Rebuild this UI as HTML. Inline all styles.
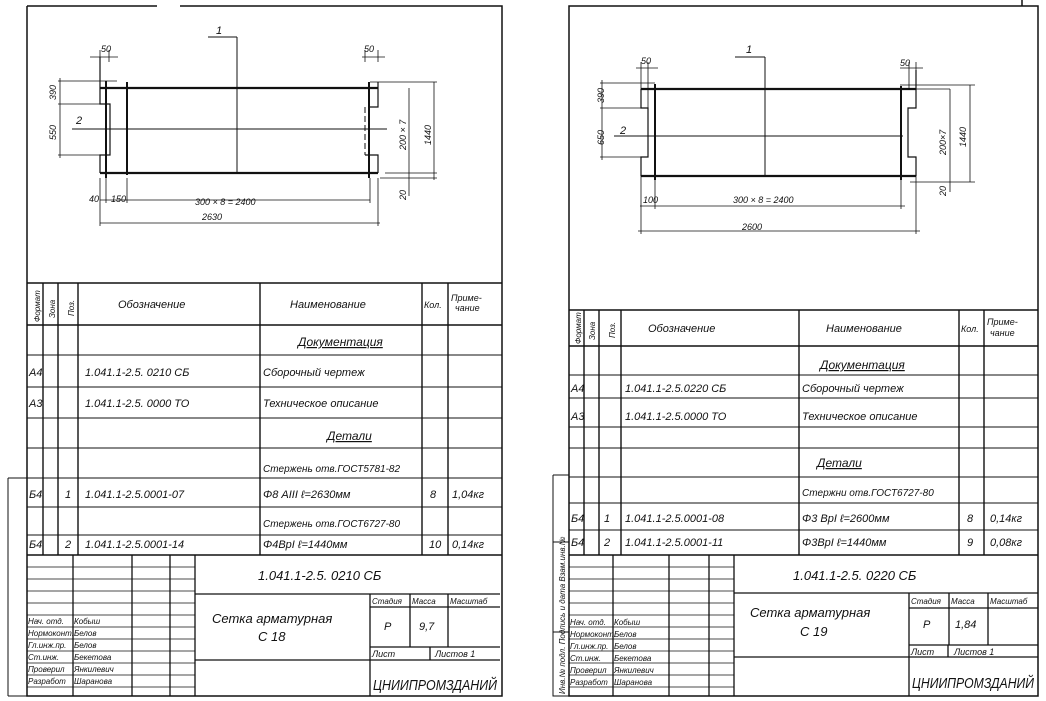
<!DOCTYPE html>
<html><head><meta charset="utf-8"><style>
html,body{margin:0;padding:0;background:#fff}
svg{display:block}
text{font-family:"Liberation Sans",sans-serif;font-style:italic;fill:#111}
</style></head><body>
<svg width="1046" height="701" viewBox="0 0 1046 701" xmlns="http://www.w3.org/2000/svg">
<g stroke="#111" fill="none" stroke-width="1.5">
<!-- LEFT SHEET frame -->
<path d="M27 6H157M180 6H502V696H27V6"/>
<path d="M8 478H27M8 696H27M8 478V696" stroke-width="1"/>
<!-- left drawing -->
<path d="M100 88H378M100 173H378" stroke-width="2.2"/>
<path d="M72 129H387" stroke-width="1"/>
<path d="M106 81V178M127 82V175M369 82V178" stroke-width="2"/>
<path d="M100 57V104H110V155H100V173" stroke-width="1.2"/>
<path d="M110 104V155M365 107V155" stroke-dasharray="6,3" stroke-width="1"/>
<path d="M378 82V107H370M365 155H378V173" stroke-width="1.2"/>
<path d="M237 37V173M208 37H237" stroke-width="1"/>
<g stroke-width="0.8">
<path d="M90 57H118M100 50V60M109 50V62"/>
<path d="M362 57H385M365 50V62M378 50V62"/>
<path d="M58 81H117M58 104H110M58 155H110M60 78V158"/>
<path d="M370 82H437M385 173H437M380 178H437M409 88V173M434 82V180M409 173V196"/>
<path d="M100 200H370M100 223H380M100 178V226M106 178V203M127 178V203M370 178V203M378 178V226"/>
</g>
<!-- left table -->
<path d="M27 283H502M27 325H502M27 555H502M43 283V555M58 283V555M78 283V555M260 283V555M422 283V555M448 283V555" stroke-width="1.4"/>
<path d="M27 355H502M27 387H502M27 418H502M27 448H502M27 478H502M27 507H502M27 535H502" stroke-width="1"/>
<!-- left title block -->
<path d="M195 555V696M195 594H500M73 555V696M132 555V696M170 555V696M370 594V696M410 594V647M448 594V647M370 607H500M370 647H500M370 660H500M430 647V660M195 660H370" stroke-width="1.3"/>
<path d="M27 567H195M27 579H195M27 591H195M27 603H195M27 615H195M27 627H195M27 639H195M27 651H195M27 663H195M27 675H195M27 687H195" stroke-width="0.8"/>

<!-- RIGHT SHEET frame -->
<path d="M569 6H1038V696H569Z"/>
<path d="M1022 0V6"/>
<path d="M553 475H569M553 542H569M553 632H569M553 475V696H569" stroke-width="1"/>
<!-- right drawing -->
<path d="M641 89H916M641 176H916" stroke-width="2.2"/>
<path d="M614 136H903" stroke-width="1"/>
<path d="M655 84V180M901 86V180" stroke-width="2"/>
<path d="M641 89V108H648V157H641V176" stroke-width="1.2"/>
<path d="M648 108V157M908 108V157" stroke-dasharray="6,3" stroke-width="1"/>
<path d="M916 70V108H908V157H916V176" stroke-width="1.2"/>
<path d="M765 57V176M735 57H765" stroke-width="1"/>
<g stroke-width="0.8">
<path d="M636 68H658M641 62V90M648 62V108"/>
<path d="M900 68H923M909 62V90M916 62V90"/>
<path d="M600 83H655M600 108H648M600 157H648M602 80V160"/>
<path d="M900 85H975M916 89H950M910 182H975M950 89V182M970 85V182M950 176V192"/>
<path d="M640 206H905M638 231H920M641 176V234M655 176V209M901 176V209M916 176V234"/>
</g>
<!-- right table -->
<path d="M569 310H1038M569 346H1038M569 555H1038M584 310V555M599 310V555M621 310V555M799 310V555M959 310V555M984 310V555" stroke-width="1.4"/>
<path d="M569 375H1038M569 398H1038M569 427H1038M569 448H1038M569 477H1038M569 503H1038M569 530H1038" stroke-width="1"/>
<!-- right title block -->
<path d="M734 555V696M734 593H1038M613 555V696M669 555V696M709 555V696M909 593V696M949 593V645M988 593V645M909 608H1038M909 645H1038M909 657H1038M948 645V657M734 657H909" stroke-width="1.3"/>
<path d="M569 567H734M569 579H734M569 591H734M569 603H734M569 615H734M569 627H734M569 639H734M569 651H734M569 663H734M569 675H734M569 687H734" stroke-width="0.8"/>
</g>

<!-- LEFT texts -->
<g font-size="9">
<text x="101" y="52">50</text><text x="364" y="52">50</text>
<text x="216" y="34" font-size="11">1</text>
<text x="76" y="124" font-size="11">2</text>
<text x="89" y="202">40</text><text x="111" y="202">150</text>
<text x="195" y="205">300 × 8 = 2400</text><text x="202" y="220">2630</text>
<text transform="translate(56 100) rotate(-90)">390</text>
<text transform="translate(56 140) rotate(-90)">550</text>
<text transform="translate(406 150) rotate(-90)">200 × 7</text>
<text transform="translate(431 145) rotate(-90)">1440</text>
<text transform="translate(406 200) rotate(-90)">20</text>
</g>
<g font-size="11">
<text x="118" y="308">Обозначение</text><text x="290" y="308">Наименование</text>
<text x="424" y="308" font-size="9">Кол.</text><text x="451" y="301" font-size="9">Приме-</text><text x="455" y="311" font-size="9">чание</text>
<text transform="translate(40 322) rotate(-90)" font-size="8">Формат</text>
<text transform="translate(55 318) rotate(-90)" font-size="8">Зона</text>
<text transform="translate(74 316) rotate(-90)" font-size="8">Поз.</text>
<text x="298" y="346" text-decoration="underline" font-size="12">Документация</text>
<text x="29" y="376">А4</text><text x="85" y="376">1.041.1-2.5. 0210 СБ</text><text x="263" y="376">Сборочный чертеж</text>
<text x="29" y="407">А3</text><text x="85" y="407">1.041.1-2.5. 0000 ТО</text><text x="263" y="407">Техническое описание</text>
<text x="327" y="440" text-decoration="underline" font-size="12">Детали</text>
<text x="263" y="472" font-size="10">Стержень отв.ГОСТ5781-82</text>
<text x="29" y="498">Б4</text><text x="65" y="498">1</text><text x="85" y="498">1.041.1-2.5.0001-07</text><text x="263" y="498">Φ8 АIII  ℓ=2630мм</text><text x="430" y="498">8</text><text x="452" y="498">1,04кг</text>
<text x="263" y="527" font-size="10">Стержень отв.ГОСТ6727-80</text>
<text x="29" y="548">Б4</text><text x="65" y="548">2</text><text x="85" y="548">1.041.1-2.5.0001-14</text><text x="263" y="548">Φ4ВрI  ℓ=1440мм</text><text x="429" y="548">10</text><text x="452" y="548">0,14кг</text>
<text x="258" y="580" font-size="13">1.041.1-2.5. 0210 СБ</text>
<text x="212" y="623" font-size="13">Сетка арматурная</text><text x="258" y="641" font-size="13">С 18</text>
<text x="372" y="604" font-size="8">Стадия</text><text x="412" y="604" font-size="8">Масса</text><text x="450" y="604" font-size="8">Масштаб</text>
<text x="384" y="630">Р</text><text x="419" y="630">9,7</text>
<text x="372" y="657" font-size="9">Лист</text><text x="435" y="657" font-size="9">Листов 1</text>
<text x="373" y="690" font-size="15" font-style="normal" textLength="124" lengthAdjust="spacingAndGlyphs">ЦНИИПРОМЗДАНИЙ</text>
</g>
<g font-size="8">
<text x="28" y="624">Нач. отд.</text><text x="74" y="624">Кобыш</text>
<text x="28" y="636">Нормоконт.</text><text x="74" y="636">Белов</text>
<text x="28" y="648">Гл.инж.пр.</text><text x="74" y="648">Белов</text>
<text x="28" y="660">Ст.инж.</text><text x="74" y="660">Бекетова</text>
<text x="28" y="672">Проверил</text><text x="74" y="672">Янкилевич</text>
<text x="28" y="684">Разработ</text><text x="74" y="684">Шаранова</text>
</g>

<!-- RIGHT texts -->
<g font-size="9">
<text x="641" y="64">50</text><text x="900" y="66">50</text>
<text x="746" y="53" font-size="11">1</text>
<text x="620" y="134" font-size="11">2</text>
<text x="643" y="203">100</text>
<text x="733" y="203">300 × 8 = 2400</text><text x="742" y="230">2600</text>
<text transform="translate(604 103) rotate(-90)">390</text>
<text transform="translate(604 145) rotate(-90)">650</text>
<text transform="translate(946 155) rotate(-90)">200×7</text>
<text transform="translate(966 147) rotate(-90)">1440</text>
<text transform="translate(946 196) rotate(-90)">20</text>
</g>
<g font-size="11">
<text x="648" y="332">Обозначение</text><text x="826" y="332">Наименование</text>
<text x="961" y="332" font-size="9">Кол.</text><text x="987" y="325" font-size="9">Приме-</text><text x="990" y="336" font-size="9">чание</text>
<text transform="translate(581 344) rotate(-90)" font-size="8">Формат</text>
<text transform="translate(595 340) rotate(-90)" font-size="8">Зона</text>
<text transform="translate(615 338) rotate(-90)" font-size="8">Поз.</text>
<text x="820" y="369" text-decoration="underline" font-size="12">Документация</text>
<text x="571" y="392">А4</text><text x="625" y="392">1.041.1-2.5.0220 СБ</text><text x="802" y="392">Сборочный чертеж</text>
<text x="571" y="420">А3</text><text x="625" y="420">1.041.1-2.5.0000 ТО</text><text x="802" y="420">Техническое описание</text>
<text x="817" y="467" text-decoration="underline" font-size="12">Детали</text>
<text x="802" y="496" font-size="10">Стержни отв.ГОСТ6727-80</text>
<text x="571" y="522">Б4</text><text x="604" y="522">1</text><text x="625" y="522">1.041.1-2.5.0001-08</text><text x="802" y="522">Φ3 ВрI  ℓ=2600мм</text><text x="967" y="522">8</text><text x="990" y="522">0,14кг</text>
<text x="571" y="546">Б4</text><text x="604" y="546">2</text><text x="625" y="546">1.041.1-2.5.0001-11</text><text x="802" y="546">Φ3ВрI  ℓ=1440мм</text><text x="967" y="546">9</text><text x="990" y="546">0,08кг</text>
<text x="793" y="580" font-size="13">1.041.1-2.5. 0220 СБ</text>
<text x="750" y="617" font-size="13">Сетка арматурная</text><text x="800" y="636" font-size="13">С 19</text>
<text x="911" y="604" font-size="8">Стадия</text><text x="951" y="604" font-size="8">Масса</text><text x="990" y="604" font-size="8">Масштаб</text>
<text x="923" y="628">Р</text><text x="955" y="628">1,84</text>
<text x="911" y="655" font-size="9">Лист</text><text x="954" y="655" font-size="9">Листов 1</text>
<text x="912" y="688" font-size="15" font-style="normal" textLength="122" lengthAdjust="spacingAndGlyphs">ЦНИИПРОМЗДАНИЙ</text>
</g>
<g font-size="8">
<text x="570" y="625">Нач. отд.</text><text x="614" y="625">Кобыш</text>
<text x="570" y="637">Нормоконт.</text><text x="614" y="637">Белов</text>
<text x="570" y="649">Гл.инж.пр.</text><text x="614" y="649">Белов</text>
<text x="570" y="661">Ст.инж.</text><text x="614" y="661">Бекетова</text>
<text x="570" y="673">Проверил</text><text x="614" y="673">Янкилевич</text>
<text x="570" y="685">Разработ</text><text x="614" y="685">Шаранова</text>
<text transform="translate(565 694) rotate(-90)">Инв.№ подл.  Подпись и дата  Взам.инв.№</text>
</g>
</svg>
</body></html>
